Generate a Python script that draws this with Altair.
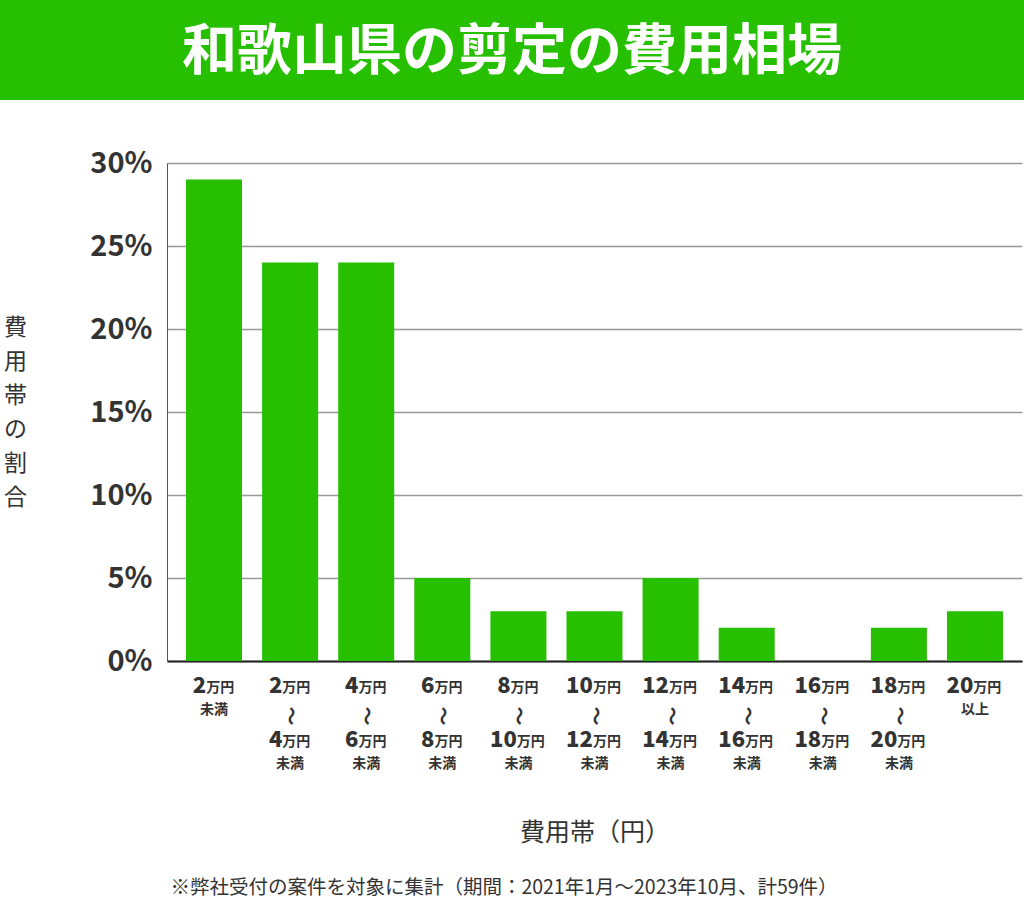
import altair as alt
import pandas as pd

title_text = "和歌山県の剪定の費用相場"
categories = [
    "2万円未満", "2万円～4万円未満", "4万円～6万円未満", "6万円～8万円未満",
    "8万円～10万円未満", "10万円～12万円未満", "12万円～14万円未満",
    "14万円～16万円未満", "16万円～18万円未満", "18万円～20万円未満", "20万円以上",
]
top_nums = ["2", "2", "4", "6", "8", "10", "12", "14", "16", "18", "20"]
bottom_nums = ["", "4", "6", "8", "10", "12", "14", "16", "18", "20", ""]
suffixes = ["未満", "未満", "未満", "未満", "未満", "未満", "未満", "未満", "未満", "未満", "以上"]
values = [29, 24, 24, 5, 3, 3, 5, 2, 0, 2, 3]
y_ticks = [0, 5, 10, 15, 20, 25, 30]
y_title = ["費", "用", "帯", "の", "割", "合"]
x_title = "費用帯（円）"
unit = "万円"
footnote = "※弊社受付の案件を対象に集計（期間：2021年1月～2023年10月、計59件）"

GREEN = "#26C000"
FONT = "Noto Sans CJK JP"
TXT = "#333333"

df = pd.DataFrame({
    "cat": categories, "val": values, "top": top_nums, "bot": bottom_nums, "suf": suffixes,
})

W, H = 855, 498
PL, PT = 167, 163
NUM_SIZE, UNIT_SIZE = 22, 14
DIGIT_W = 12.4

xscale = alt.Scale(paddingInner=0.264, paddingOuter=0.25)
X = alt.X(
    "cat:N",
    sort=categories,
    scale=xscale,
    axis=alt.Axis(
        title=x_title,
        titleFont=FONT,
        titleFontSize=25,
        titleFontWeight="normal",
        titleColor=TXT,
        titleBaseline="middle",
        titleY=171,
        labels=False,
        ticks=False,
        domainColor="#222222",
        domainWidth=2,
        grid=False,
    ),
)

bars = alt.Chart(df).mark_bar(color=GREEN).encode(
    x=X,
    y=alt.Y(
        "val:Q",
        scale=alt.Scale(domain=[0, 30], nice=False),
        axis=alt.Axis(
            values=y_ticks,
            labelExpr="datum.value + '%'",
            labelFont=FONT,
            labelFontSize=29,
            labelFontWeight="bold",
            labelColor=TXT,
            labelPadding=15,
            ticks=False,
            domainColor="#555555",
            domainWidth=1,
            gridColor="#999999",
            gridWidth=1.5,
            title=y_title,
            titleAngle=0,
            titleFont=FONT,
            titleFontSize=23,
            titleFontWeight="normal",
            titleColor=TXT,
            titleLineHeight=34,
            titleAlign="center",
            titleBaseline="middle",
            titleX=-152,
            titleY=164,
        ),
    ),
)

base = alt.Chart(df)

label_layers = []
# amount lines: number (big) + 万円 (small), centred as a pair
for field, ypix in [("top", 686), ("bot", 740)]:
    for nd in (1, 2):
        dx = (nd * DIGIT_W - 2 * UNIT_SIZE) / 2
        cond = f"length(datum.{field}) == {nd}"
        label_layers.append(
            base.transform_filter(cond).mark_text(
                font=FONT, fontSize=NUM_SIZE, fontWeight=900, color=TXT,
                align="right", baseline="middle", dx=dx, clip=False,
            ).encode(x=X, y=alt.value(ypix - PT), text=f"{field}:N")
        )
        label_layers.append(
            base.transform_filter(cond).mark_text(
                font=FONT, fontSize=UNIT_SIZE, fontWeight="bold", color=TXT,
                align="left", baseline="middle", dx=dx, dy=1.5, clip=False,
            ).encode(x=X, y=alt.value(ypix - PT), text=alt.value(unit))
        )
# wave dash between the two amounts
label_layers.append(
    base.transform_filter("datum.bot != ''").mark_text(
        font=FONT, fontSize=19, fontWeight="bold", color=TXT, angle=90,
        align="center", baseline="middle", clip=False,
    ).encode(x=X, y=alt.value(716 - PT), text=alt.value("〜"))
)
# suffix (未満 / 以上)
label_layers.append(
    base.transform_filter("datum.bot != ''").mark_text(
        font=FONT, fontSize=14, fontWeight="bold", color=TXT,
        align="center", baseline="middle", clip=False,
    ).encode(x=X, y=alt.value(764 - PT), text="suf:N")
)
label_layers.append(
    base.transform_filter("datum.bot == ''").mark_text(
        font=FONT, fontSize=14, fontWeight="bold", color=TXT,
        align="center", baseline="middle", clip=False,
    ).encode(x=X, y=alt.value(710 - PT), text="suf:N")
)

band_df = pd.DataFrame({"t": [title_text]})
band = alt.Chart(band_df).mark_rect(color=GREEN, clip=False).encode(
    x=alt.value(-PL), x2=alt.value(1024 - PL), y=alt.value(-PT), y2=alt.value(100 - PT)
)
title = alt.Chart(band_df).mark_text(
    color="white", font=FONT, fontSize=55, fontWeight="bold", align="center", baseline="middle"
).encode(text="t:N", x=alt.value(512 - PL), y=alt.value(52 - PT))

foot_df = pd.DataFrame({"t": [footnote]})
foot = alt.Chart(foot_df).mark_text(
    color=TXT, font=FONT, fontSize=19.5, align="center", baseline="middle"
).encode(text="t:N", x=alt.value(504 - PL), y=alt.value(888 - PT))

chart = alt.layer(band, bars, *label_layers, title, foot).properties(
    width=W,
    height=H,
    autosize=alt.AutoSizeParams(type="none"),
    padding={"left": PL, "top": PT, "right": 1024 - PL - W, "bottom": 907 - PT - H},
    background="white",
).configure_view(stroke=None)

chart.save("out.html", embed_options={"renderer": "svg", "actions": False})
